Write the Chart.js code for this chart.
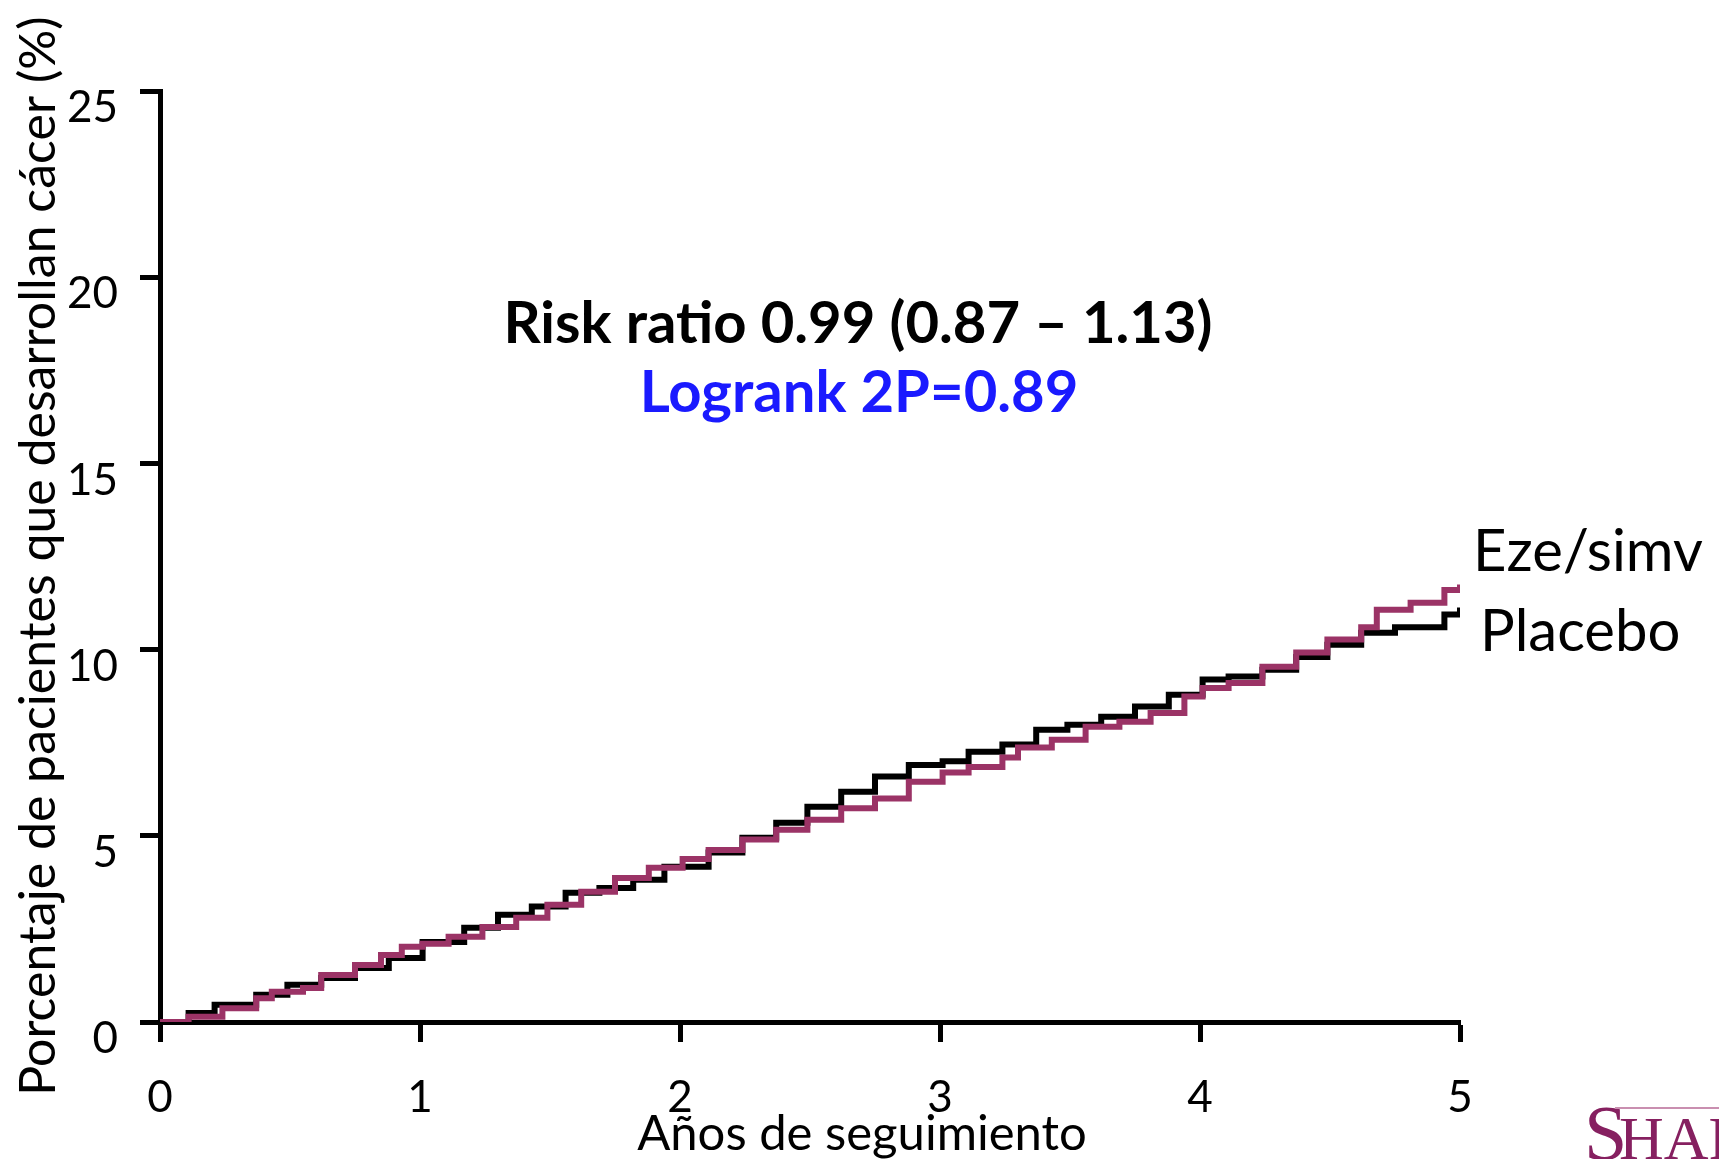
<!DOCTYPE html>
<html>
<head>
<meta charset="utf-8">
<script src="https://cdn.jsdelivr.net/npm/chart.js@4/dist/chart.umd.min.js"></script>
<style>
  html, body { margin: 0; padding: 0; background: #fff; }
  #wrap { width: 1719px; height: 1159px; position: relative; }
</style>
</head>
<body>
<div id="wrap"><canvas id="km" width="1719" height="1159"></canvas></div>
<script>
// values (years of follow-up, cumulative % with cancer)
const ezeYears = [0, 0.11, 0.24, 0.37, 0.43, 0.55, 0.62, 0.75, 0.85, 0.93, 1.01, 1.11, 1.24, 1.37, 1.49,
  1.62, 1.75, 1.88, 2.01, 2.11, 2.24, 2.37, 2.49, 2.62, 2.75, 2.88, 3.01, 3.11, 3.24, 3.30, 3.43,
  3.56, 3.69, 3.81, 3.94, 4.01, 4.11, 4.24, 4.37, 4.49, 4.62, 4.68, 4.81, 4.94, 5.00];
const ezePct = [0, 0.14, 0.37, 0.64, 0.81, 0.91, 1.26, 1.53, 1.80, 2.02, 2.10, 2.29, 2.55, 2.80, 3.15,
  3.50, 3.87, 4.14, 4.38, 4.62, 4.90, 5.16, 5.43, 5.74, 6.00, 6.45, 6.70, 6.85, 7.10, 7.37, 7.58,
  7.93, 8.06, 8.30, 8.74, 8.97, 9.10, 9.54, 9.92, 10.27, 10.60, 11.07, 11.26, 11.60, 11.75];

const placeboYears = [0, 0.11, 0.21, 0.37, 0.49, 0.62, 0.75, 0.88, 1.01, 1.17, 1.30, 1.43, 1.56, 1.69,
  1.82, 1.94, 2.11, 2.24, 2.37, 2.49, 2.62, 2.75, 2.88, 3.01, 3.11, 3.24, 3.37, 3.49, 3.62, 3.75,
  3.88, 4.01, 4.11, 4.24, 4.37, 4.49, 4.62, 4.75, 4.87, 4.94, 5.00];
const placeboPct = [0, 0.24, 0.46, 0.73, 1.00, 1.18, 1.45, 1.72, 2.15, 2.53, 2.88, 3.10, 3.47, 3.60,
  3.82, 4.17, 4.55, 4.95, 5.35, 5.78, 6.18, 6.59, 6.90, 7.00, 7.26, 7.45, 7.85, 7.98, 8.20, 8.47,
  8.79, 9.20, 9.28, 9.46, 9.80, 10.13, 10.45, 10.60, 10.60, 10.94, 11.13];

const xTicks = [0, 1, 2, 3, 4, 5];
const yTicks = [0, 5, 10, 15, 20, 25];
const seriesNames = ['Eze/simv', 'Placebo'];
const xTitle = 'Años de seguimiento';
const yTitle = 'Porcentaje de pacientes que desarrollan cácer (%)';
const riskText = 'Risk ratio 0.99 (0.87 – 1.13)';
const logrankText = 'Logrank 2P=0.89';

const FONT = 'Lato, "Open Sans", sans-serif';
const PURPLE = '#9b3366';

const toPoints = (xs, ys) => xs.map((x, i) => ({ x: x, y: ys[i] }));

// free text around the plot: axis titles, statistics, series labels, logo
const textPlugin = {
  id: 'slideText',
  afterDraw(chart) {
    const ctx = chart.ctx;
    ctx.save();
    ctx.fillStyle = '#000';
    ctx.textAlign = 'center';
    ctx.textBaseline = 'middle';

    ctx.font = '50px ' + FONT;
    ctx.save();
    ctx.translate(39, 556);
    ctx.rotate(-Math.PI / 2);
    ctx.fillText(yTitle, 0, 0);
    ctx.restore();

    ctx.font = '49px ' + FONT;
    ctx.fillText(xTitle, 862, 1134);

    ctx.font = 'bold 58px ' + FONT;
    ctx.fillText(riskText, 858, 324);
    ctx.fillStyle = '#1a1aff';
    ctx.fillText(logrankText, 859, 393);

    ctx.fillStyle = '#000';
    ctx.textAlign = 'left';
    ctx.textBaseline = 'alphabetic';
    ctx.font = '58px ' + FONT;
    ctx.fillText(seriesNames[0], 1473, 571);
    ctx.fillText(seriesNames[1], 1480, 651);

    // cut-off sponsor logo, bottom right
    ctx.fillStyle = '#862060';
    ctx.textBaseline = 'top';
    ctx.font = '78px "Liberation Serif", serif';
    ctx.fillText('S', 1584, 1100);
    ctx.font = '62px "Liberation Serif", serif';
    ctx.fillText('HARP', 1619, 1112);
    ctx.fillStyle = '#c98fb0';
    ctx.fillRect(1615, 1107, 104, 2);
    ctx.restore();
  }
};

new Chart(document.getElementById('km'), {
  type: 'line',
  data: {
    datasets: [
      {
        label: seriesNames[0],
        data: toPoints(ezeYears, ezePct),
        borderColor: PURPLE,
        borderWidth: 6,
        pointRadius: 0,
        stepped: true,
        fill: false
      },
      {
        label: seriesNames[1],
        data: toPoints(placeboYears, placeboPct),
        borderColor: '#000',
        borderWidth: 6,
        pointRadius: 0,
        stepped: true,
        fill: false
      }
    ]
  },
  options: {
    responsive: false,
    animation: false,
    layout: { padding: { top: 91, right: 259, left: 0, bottom: 0 } },
    plugins: {
      legend: { display: false },
      tooltip: { enabled: false }
    },
    scales: {
      x: {
        type: 'linear',
        min: 0,
        max: 5,
        afterFit: (scale) => { scale.height = 137; },
        afterBuildTicks: (scale) => { scale.ticks = xTicks.map(v => ({ value: v })); },
        border: { display: true, color: '#000', width: 5 },
        grid: { drawOnChartArea: false, drawTicks: true, tickLength: 20, tickWidth: 5, tickColor: '#000' },
        ticks: { color: '#000', font: { family: FONT, size: 44 }, padding: 29, maxRotation: 0 }
      },
      y: {
        type: 'linear',
        min: 0,
        max: 25,
        afterFit: (scale) => { scale.width = 160; },
        afterBuildTicks: (scale) => { scale.ticks = yTicks.map(v => ({ value: v })); },
        border: { display: true, color: '#000', width: 5 },
        grid: { drawOnChartArea: false, drawTicks: true, tickLength: 20, tickWidth: 5, tickColor: '#000' },
        ticks: { color: '#000', font: { family: FONT, size: 44 }, padding: 22, labelOffset: 17 }
      }
    }
  },
  plugins: [textPlugin]
});
</script>
</body>
</html>
